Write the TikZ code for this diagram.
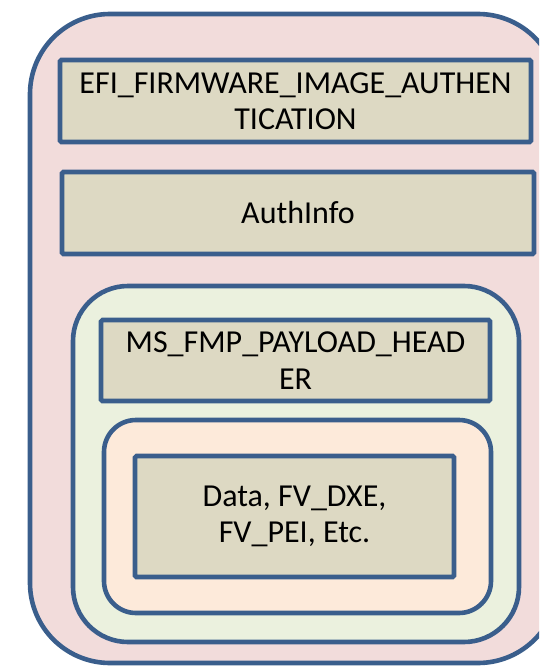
\documentclass[tikz,border=0pt]{standalone}
\usepackage{fontspec}
\setmainfont{Carlito}
\definecolor{frame}{HTML}{3A5E8C}
\definecolor{pinkfill}{HTML}{F2DCDB}
\definecolor{greenfill}{HTML}{EBF1DE}
\definecolor{peachfill}{HTML}{FDEADA}
\definecolor{tanfill}{HTML}{DDD9C3}
\tikzset{
  layer/.style={draw=frame, line width=4.6pt, inner sep=0pt, outer sep=0pt},
  field/.style={layer, fill=tanfill, rounded corners=1.5pt, align=center,
    font=\fontsize{32}{36.5}\selectfont},
}
\begin{document}
\begin{tikzpicture}[x=1pt,y=-1pt]
\useasboundingbox (0,0) rectangle (539,666);
\clip (0,0) rectangle (539,666);
\fill[white] (0,0) rectangle (539,666);
% capsule layers, outermost first
\node[layer, fill=pinkfill, rounded corners=80pt, minimum width=528pt, minimum height=649pt] (outer) at (294,338.5) {};
\node[layer, fill=greenfill, rounded corners=55pt, minimum width=446pt, minimum height=356pt] (mid) at (296,464) {};
\node[layer, fill=peachfill, rounded corners=32pt, minimum width=387pt, minimum height=193pt] (inner) at (297.5,516.5) {};
% header and payload fields
\node[field, minimum width=471pt, minimum height=82pt] (auth) at (295.5,101) {EFI\_FIRMWARE\_IMAGE\_AUTHEN\\TICATION};
\node[field, minimum width=472pt, minimum height=82pt] (info) at (298,213) {AuthInfo};
\node[field, minimum width=389pt, minimum height=81pt] (hdr) at (295.5,360.5) {MS\_FMP\_PAYLOAD\_HEAD\\ER};
\node[field, minimum width=319pt, minimum height=121pt] (data) at (294.5,516.5) {Data, FV\_DXE,\\FV\_PEI, Etc.};
\end{tikzpicture}
\end{document}
